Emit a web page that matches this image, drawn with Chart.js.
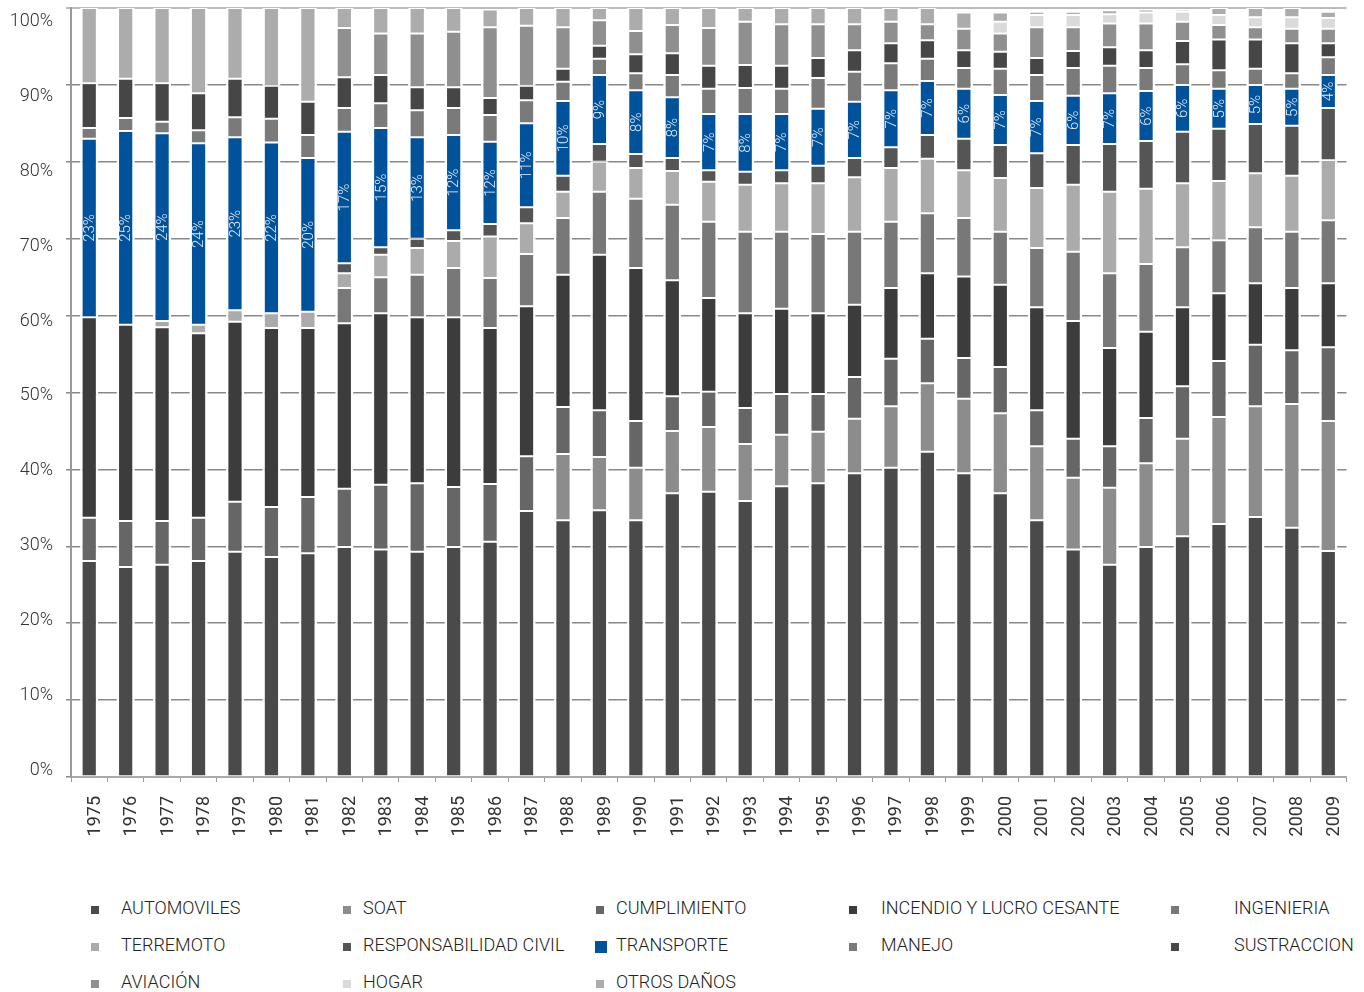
<!DOCTYPE html>
<html>
<head>
<meta charset="utf-8">
<script src="https://cdn.jsdelivr.net/npm/chart.js@4.4.1/dist/chart.umd.min.js"></script>
<style>
  body { margin: 0; background: #fff; font-family: Roboto, "Liberation Sans", sans-serif; }
  #wrap { position: relative; width: 1364px; height: 992px; overflow: hidden; }
  #chart { position: absolute; left: 0; top: 0; }
  .leg { position: absolute; font-size: 18px; color: #222; font-weight: 300; white-space: nowrap; line-height: 20px; }
  .sw { position: absolute; width: 8px; height: 8px; }
</style>
</head>
<body>
<div id="wrap">
  <canvas id="chart" width="1364" height="860"></canvas>
</div>
<script>
const years = ["1975","1976","1977","1978","1979","1980","1981","1982","1983","1984",
  "1985","1986","1987","1988","1989","1990","1991","1992","1993","1994",
  "1995","1996","1997","1998","1999","2000","2001","2002","2003","2004",
  "2005","2006","2007","2008","2009"];

const yTicks = [0, 10, 20, 30, 40, 50, 60, 70, 80, 90, 100];

// shares in %, bottom of the stack first
const automoviles = [28.1,27.3,27.6,28.1,29.3,28.6,29.1,29.9,29.6,29.3, 29.9,30.6,34.6,33.4,34.7,33.4,36.9,37.1,35.9,37.8, 38.2,39.5,40.2,42.3,39.5,36.9,33.4,29.6,27.6,29.9, 31.3,32.9,33.8,32.4,29.4];
const soat = [0,0,0,0,0,0,0,0,0,0, 0,0,0,8.6,6.9,6.8,8.1,8.4,7.4,6.7, 6.7,7.1,8.0,8.9,9.7,10.4,9.6,9.3,10.0,10.9, 12.7,13.9,14.4,16.1,16.9];
const cumplimiento = [5.6,6.0,5.7,5.6,6.5,6.5,7.3,7.6,8.4,8.9, 7.8,7.5,7.1,6.1,6.1,6.1,4.5,4.6,4.7,5.3, 4.9,5.4,6.2,5.8,5.3,6.0,4.7,5.1,5.4,5.9, 6.8,7.3,8.0,7.0,9.6];
const incendio = [26.1,25.5,25.2,24.0,23.4,23.3,22.0,21.5,22.3,21.6, 22.1,20.3,19.5,17.2,20.2,19.9,15.1,12.2,12.3,11.1, 10.5,9.4,9.2,8.5,10.6,10.7,13.4,15.3,12.8,11.2, 10.3,8.8,8.0,8.1,8.3];
const ingenieria = [0,0,0,0,0,0,0,4.6,4.7,5.5, 6.4,6.5,6.8,7.4,8.2,9.0,9.8,9.9,10.6,10.0, 10.3,9.5,8.6,7.8,7.6,6.9,7.7,9.0,9.7,8.8, 7.8,6.9,7.3,7.3,8.2];
const terremoto = [0,0,0.8,1.1,1.5,1.9,2.1,1.9,2.9,3.5, 3.5,5.4,4.0,3.4,3.9,4.0,4.4,5.2,6.1,6.3, 6.6,7.1,7.0,7.1,6.2,7.0,7.8,8.7,10.6,9.8, 8.3,7.7,7.0,7.3,7.8];
const respCivil = [0,0,0,0,0,0,0,1.3,1.0,1.2, 1.4,1.6,2.1,2.1,2.3,1.8,1.7,1.5,1.7,1.7, 2.3,2.5,2.7,3.1,4.1,4.3,4.5,5.2,6.2,6.2, 6.7,6.8,6.4,6.5,6.8];
const transporte = [23.2,25.2,24.4,23.6,22.5,22.2,20.0,17.1,15.5,13.2, 12.4,10.7,10.9,9.7,9.0,8.3,7.9,7.3,7.5,7.3, 7.4,7.3,7.4,7.0,6.5,6.5,6.8,6.4,6.6,6.5, 6.1,5.2,5.1,4.8,4.3];
const transporteLabels = [23,25,24,24,23,22,20,17,15,13, 12,12,11,10,9,8,8,7,8,7, 7,7,7,7,6,7,7,6,7,6, 6,5,5,5,4];
const manejo = [1.4,1.7,1.5,1.7,2.6,3.1,3.0,3.1,3.2,3.5, 3.5,3.5,3.0,2.5,2.1,2.2,2.9,3.3,3.4,3.3, 4.0,3.9,3.5,2.9,2.7,3.4,3.4,3.6,3.6,3.0, 2.7,2.4,2.1,2.0,2.3];
const sustraccion = [5.8,5.1,5.0,4.8,5.0,4.3,4.3,4.0,3.7,3.0, 2.7,2.2,1.9,1.7,1.7,2.5,2.8,3.0,3.0,3.0, 2.6,2.8,2.6,2.4,2.3,2.2,2.2,2.2,2.4,2.3, 3.0,4.0,3.8,3.9,1.8];
const aviacion = [0,0,0,0,0,0,0,6.4,5.4,7.0, 7.2,9.2,7.8,5.4,3.3,3.0,3.7,4.9,5.6,5.4, 4.4,3.4,2.8,2.1,2.8,2.4,4.0,3.1,3.1,3.5, 2.5,1.9,1.6,1.9,1.9];
const hogar = [0,0,0,0,0,0,0,0,0,0, 0,0,0,0,0,0,0,0,0,0, 0,0,0,0,0,1.5,1.6,1.6,1.2,1.4, 1.3,1.3,1.3,1.5,1.4];
const otrosDanos = [9.8,9.2,9.8,11.1,9.2,10.1,12.2,2.6,3.3,3.3, 3.1,2.3,2.3,2.5,1.6,3.0,2.2,2.6,1.8,2.1, 2.1,2.1,1.8,2.1,2.1,1.2,0.4,0.4,0.5,0.4, 0.3,0.9,1.2,1.2,0.8];

const series = [
  { name: "AUTOMOVILES", data: automoviles, color: "#4a4a4a" },
  { name: "SOAT", data: soat, color: "#8c8c8c" },
  { name: "CUMPLIMIENTO", data: cumplimiento, color: "#666666" },
  { name: "INCENDIO Y LUCRO CESANTE", data: incendio, color: "#3c3c3c" },
  { name: "INGENIERIA", data: ingenieria, color: "#787878" },
  { name: "TERREMOTO", data: terremoto, color: "#ababab" },
  { name: "RESPONSABILIDAD CIVIL", data: respCivil, color: "#555555" },
  { name: "TRANSPORTE", data: transporte, color: "#00529b" },
  { name: "MANEJO", data: manejo, color: "#7a7a7a" },
  { name: "SUSTRACCION", data: sustraccion, color: "#464646" },
  { name: "AVIACIÓN", data: aviacion, color: "#8f8f8f" },
  { name: "HOGAR", data: hogar, color: "#dadada" },
  { name: "OTROS DAÑOS", data: otrosDanos, color: "#acacac" }
];

// legend grid: 5 columns, filled row by row
const legMarkX = [91, 343, 596, 849, 1171];
const legTextX = [121, 363, 616, 881, 1234];
const legRowY = [908, 945, 982];

Chart.defaults.font.family = "Roboto, 'Liberation Sans', sans-serif";
Chart.defaults.font.size = 18;
Chart.defaults.color = "#333";

const transLabelPlugin = {
  id: "transLabels",
  afterDatasetsDraw(chart) {
    const meta = chart.getDatasetMeta(7);
    const ctx = chart.ctx;
    ctx.save();
    ctx.fillStyle = "rgba(255,255,255,0.9)";
    ctx.font = "300 15px Roboto, 'Liberation Sans', sans-serif";
    ctx.textAlign = "center";
    ctx.textBaseline = "middle";
    meta.data.forEach((bar, i) => {
      const cy = (bar.y + bar.base) / 2;
      ctx.save();
      ctx.translate(bar.x + 1, cy);
      ctx.rotate(-Math.PI / 2);
      ctx.fillText(transporteLabels[i] + "%", 0, 0);
      ctx.restore();
    });
    ctx.restore();
  }
};

// y labels sit a little inside the grid range in the original (0% raised, 100% lowered)
const yLabelPlugin = {
  id: "yLabels",
  afterDraw(chart) {
    const sc = chart.scales.y;
    const ctx = chart.ctx;
    const base = sc.getPixelForValue(0);
    ctx.save();
    ctx.fillStyle = "#333";
    ctx.font = "300 18px Roboto, 'Liberation Sans', sans-serif";
    ctx.textAlign = "right";
    ctx.textBaseline = "middle";
    yTicks.forEach(v => {
      const y = base - 7 + (sc.getPixelForValue(v) - base) * 0.973;
      ctx.fillText(v + "%", sc.right - 18, y);
    });
    ctx.restore();
  }
};

new Chart(document.getElementById("chart"), {
  type: "bar",
  data: {
    labels: years,
    datasets: series.map(s => ({
      label: s.name,
      data: s.data,
      backgroundColor: s.color,
      borderColor: "#ffffff",
      borderWidth: { top: 1, bottom: 1, left: 2.5, right: 2.5 },
      borderSkipped: false,
      categoryPercentage: 1,
      barPercentage: 0.5
    }))
  },
  options: {
    responsive: false,
    animation: false,
    layout: { padding: { top: 8, right: 8, left: 0, bottom: 0 } },
    plugins: {
      legend: { display: false },
      tooltip: { enabled: false }
    },
    scales: {
      x: {
        stacked: true,
        grid: { display: true, drawOnChartArea: false, tickLength: 5, color: "#999" },
        border: { display: true, color: "#aaa", width: 2 },
        ticks: { minRotation: 90, maxRotation: 90, padding: 14, labelOffset: 6, autoSkip: false, color: "#333" },
        afterFit(scale) { scale.height = 83; }
      },
      y: {
        stacked: true,
        min: 0,
        max: 100,
        afterBuildTicks(scale) { scale.ticks = yTicks.map(v => ({ value: v })); },
        grid: {
          color: ctx => (ctx.tick && ctx.tick.value === 100) ? "#bbbbbb" : "#888888",
          lineWidth: ctx => (ctx.tick && ctx.tick.value === 100) ? 2 : 1.5,
          tickLength: 5
        },
        border: { display: true, color: "#999", width: 2 },
        ticks: { display: false },
        afterFit(scale) {
          scale.width = 71;
          scale.paddingTop = 0;
          scale.paddingBottom = 0;
        }
      }
    }
  },
  plugins: [transLabelPlugin, yLabelPlugin]
});

// html legend
const wrap = document.getElementById("wrap");
series.forEach((s, i) => {
  const col = i % 5, row = Math.floor(i / 5);
  const sw = document.createElement("div");
  sw.className = "sw";
  const big = s.name === "TRANSPORTE";
  const size = big ? 12 : 8;
  sw.style.width = size + "px";
  sw.style.height = size + "px";
  sw.style.background = s.color;
  sw.style.left = (legMarkX[col] + (big ? -1 : 0)) + "px";
  sw.style.top = (legRowY[row] - (big ? 4 : 2)) + "px";
  wrap.appendChild(sw);
  const t = document.createElement("div");
  t.className = "leg";
  t.textContent = s.name;
  t.style.left = legTextX[col] + "px";
  t.style.top = (legRowY[row] - 10) + "px";
  wrap.appendChild(t);
});
</script>
</body>
</html>
